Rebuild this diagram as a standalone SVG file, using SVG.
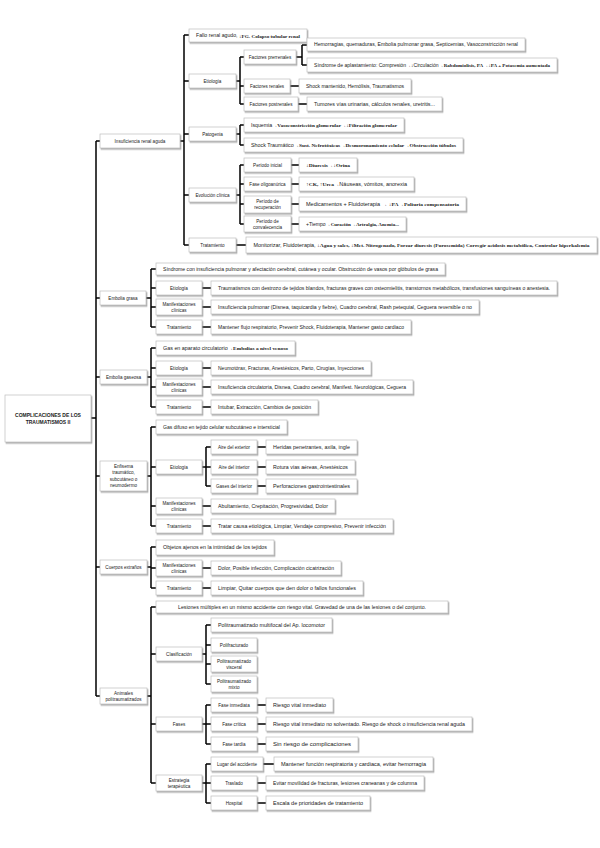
<svg xmlns="http://www.w3.org/2000/svg" width="600" height="848" viewBox="0 0 600 848">
<defs>
<filter id="sh" x="-5%" y="-20%" width="115%" height="160%"><feDropShadow dx="1" dy="1.4" stdDeviation="0.5" flood-color="#777" flood-opacity="0.6"/></filter>
<style>
.b{fill:#fff;stroke:#bdbdbd;stroke-width:0.7;filter:url(#sh)}
.t{font-family:"Liberation Sans",Arial,sans-serif;font-size:4.6px;fill:#222;text-anchor:middle;dominant-baseline:central}
.r{font-weight:bold;font-size:5px}
.k{font-family:"Liberation Serif","Times New Roman",serif;font-weight:bold}
#conn path{stroke:#000;stroke-width:1.5;fill:none}
</style>
</defs>
<rect width="600" height="848" fill="#fff"/>
<g id="conn">
<path d="M91 418H96M96 141V696M96 141H100M96 298H100M96 377H100M96 476H100M96 567H100M96 696H100"/>
<path d="M180 141H184M184 35V245M184 35H189M184 81H189M184 134H189M184 195H189M184 245H189"/>
<path d="M236 81H240M240 57V104M240 57H244M240 86H244M240 104H244M296 57H302M302 45V65M302 45H307M302 65H307M290 86H299M298 104H307"/>
<path d="M236 134H240M240 125V145M240 125H244M240 145H244"/>
<path d="M236 195H240M240 165V224M240 165H244M240 184H244M240 204H244M240 224H244M291 165H299M291 184H299M291 204H299M291 224H299M236 245H246"/>
<path d="M146 298H151M151 269V327M151 269H156M151 288H156M151 307H156M151 327H156M202 288H211M202 307H211M202 327H211"/>
<path d="M147 377H151M151 348V407M151 348H156M151 368H156M151 387H156M151 407H156M202 368H211M202 387H211M202 407H211"/>
<path d="M147 476H151M151 427V526M151 427H156M151 467H156M151 506H156M151 526H156M202 467H206M206 447V486M206 447H211M206 467H211M206 486H211M257 447H266M257 467H266M257 486H266M202 506H211M202 526H211"/>
<path d="M147 567H151M151 547V588M151 547H156M151 568H156M151 588H156M202 568H211M202 588H211"/>
<path d="M147 696H151M151 607V783M151 607H156M151 654H156M151 724H156M151 783H156M202 654H206M206 625V684M206 625H211M206 645H211M206 664H211M206 684H211M202 724H206M206 705V744M206 705H211M206 724H211M206 744H211M257 705H266M257 724H266M257 744H266M202 783H206M206 764V803M206 764H211M206 783H211M206 803H211M263 764H274M257 783H266M257 803H266"/>
</g>
<g id="root"><rect class="b" x="5" y="395" width="86" height="47"/><text class="t r" x="48" y="415">COMPLICACIONES DE LOS</text><text class="t r" x="48" y="422">TRAUMATISMOS II</text></g>
<g id="n-ira"><rect class="b" x="100" y="134" width="80" height="14"/><text class="t" x="140" y="141">Insuficiencia renal aguda</text></g>
<g id="n-eg"><rect class="b" x="100" y="291" width="46" height="14"/><text class="t" x="123" y="298">Embolia grasa</text></g>
<g id="n-egas"><rect class="b" x="100" y="370" width="47" height="14"/><text class="t" x="123.5" y="377">Embolia gaseosa</text></g>
<g id="n-enf"><rect class="b" x="100" y="461" width="47" height="30"/><text class="t" x="123.5" y="466">Enfisema</text><text class="t" x="123.5" y="472.5">traumático,</text><text class="t" x="123.5" y="479">subcutáneo o</text><text class="t" x="123.5" y="485.5">neumodermo</text></g>
<g id="n-ce"><rect class="b" x="100" y="560" width="47" height="14"/><text class="t" x="123.5" y="567">Cuerpos extraños</text></g>
<g id="n-pol"><rect class="b" x="100" y="688" width="47" height="16"/><text class="t" x="123.5" y="693">Animales</text><text class="t" x="123.5" y="699">politraumatizados</text></g>

<g id="n-fallo"><rect class="b" x="189" y="29" width="118" height="13"/><text class="t" x="248" y="35.5" textLength="104" lengthAdjust="spacingAndGlyphs">Fallo renal agudo, <tspan class="k">↓FG. Colapso tubular renal</tspan></text></g>
<g id="n-etio1"><rect class="b" x="189" y="74" width="47" height="14"/><text class="t" x="212.5" y="81">Etiología</text></g>
<g id="n-prerr"><rect class="b" x="244" y="50" width="52" height="14"/><text class="t" x="270" y="57">Factores prerrenales</text></g>
<g id="n-hemo"><rect class="b" x="307" y="38" width="218" height="13"/><text class="t" x="416" y="44.5" textLength="204" lengthAdjust="spacingAndGlyphs">Hemorragias, quemaduras, Embolia pulmonar grasa, Septicemias, Vasoconstricción renal</text></g>
<g id="n-apl"><rect class="b" x="307" y="58" width="250" height="14"/><text class="t" x="432" y="65" textLength="236" lengthAdjust="spacingAndGlyphs">Síndrome de aplastamiento: Compresión→↓Circulación→<tspan class="k">Rabdomiolisis, PA→↓PA + Potasemia aumentada</tspan></text></g>
<g id="n-ren"><rect class="b" x="244" y="79" width="46" height="14"/><text class="t" x="267" y="86">Factores renales</text></g>
<g id="n-shockm"><rect class="b" x="299" y="79" width="112" height="14"/><text class="t" x="355" y="86" textLength="98" lengthAdjust="spacingAndGlyphs">Shock mantenido, Hemólisis, Traumatismos</text></g>
<g id="n-postr"><rect class="b" x="244" y="97" width="54" height="14"/><text class="t" x="271" y="104">Factores postrenales</text></g>
<g id="n-tum"><rect class="b" x="307" y="97" width="135" height="14"/><text class="t" x="374.5" y="104" textLength="121" lengthAdjust="spacingAndGlyphs">Tumores vías urinarias, cálculos renales, uretritis...</text></g>
<g id="n-pato"><rect class="b" x="189" y="127" width="47" height="14"/><text class="t" x="212.5" y="134">Patogenia</text></g>
<g id="n-isq"><rect class="b" x="244" y="118" width="160" height="14"/><text class="t" x="324" y="125" textLength="146" lengthAdjust="spacingAndGlyphs">Isquemia→<tspan class="k">Vasoconstricción glomerular→↓Filtración glomerular</tspan></text></g>
<g id="n-shtr"><rect class="b" x="244" y="138" width="219" height="14"/><text class="t" x="353.5" y="145" textLength="205" lengthAdjust="spacingAndGlyphs">Shock Traumático→<tspan class="k">Sust. Nefrotóxicas→Desmoronamiento celular→Obstrucción túbulos</tspan></text></g>
<g id="n-evol"><rect class="b" x="189" y="188" width="47" height="14"/><text class="t" x="212.5" y="195">Evolución clínica</text></g>
<g id="n-pini"><rect class="b" x="244" y="158" width="47" height="14"/><text class="t" x="267.5" y="165">Período inicial</text></g>
<g id="n-diur"><rect class="b" x="299" y="158" width="58" height="14"/><text class="t" x="328" y="165" textLength="44" lengthAdjust="spacingAndGlyphs"><tspan class="k">↓Diuresis→↓Orina</tspan></text></g>
<g id="n-olig"><rect class="b" x="244" y="177" width="47" height="14"/><text class="t" x="267.5" y="184">Fase oligoanúrica</text></g>
<g id="n-ck"><rect class="b" x="299" y="177" width="115" height="14"/><text class="t" x="356.5" y="184" textLength="101" lengthAdjust="spacingAndGlyphs"><tspan class="k">↑CK, ↑Urea→</tspan>Náuseas, vómitos, anorexia</text></g>
<g id="n-recup"><rect class="b" x="244" y="196" width="47" height="17"/><text class="t" x="267.5" y="201.5">Período de</text><text class="t" x="267.5" y="207.5">recuperación</text></g>
<g id="n-medic"><rect class="b" x="299" y="197" width="167" height="14"/><text class="t" x="382.5" y="204" textLength="153" lengthAdjust="spacingAndGlyphs">Medicamentos + Fluidoterapia → <tspan class="k">↓PA→Poliuria compensatoria</tspan></text></g>
<g id="n-conv"><rect class="b" x="244" y="216" width="47" height="16"/><text class="t" x="267.5" y="221">Período de</text><text class="t" x="267.5" y="227">convalecencia</text></g>
<g id="n-tiempo"><rect class="b" x="299" y="217" width="107" height="14"/><text class="t" x="352.5" y="224" textLength="93" lengthAdjust="spacingAndGlyphs">+Tiempo→<tspan class="k">Curación→Artralgia, Anemia...</tspan></text></g>
<g id="n-trat1"><rect class="b" x="189" y="238" width="47" height="14"/><text class="t" x="212.5" y="245">Tratamiento</text></g>
<g id="n-monit"><rect class="b" x="246" y="237" width="351" height="16"/><text class="t" x="421.5" y="245" textLength="336" lengthAdjust="spacingAndGlyphs">Monitorizar, Fluidoterapia, <tspan class="k">↓Agua y sales, ↓Met. Nitrogenado, Forzar diuresis (Furosemida) Corregir acidosis metabólica, Controlar hiperkalemia</tspan></text></g>

<g id="n-eg-def"><rect class="b" x="156" y="263" width="289" height="12"/><text class="t" x="300.5" y="269" textLength="275" lengthAdjust="spacingAndGlyphs">Síndrome con insuficiencia pulmonar y afectación cerebral, cutánea y ocular. Obstrucción de vasos por glóbulos de grasa</text></g>
<g id="n-eg-etio"><rect class="b" x="156" y="281" width="46" height="14"/><text class="t" x="179" y="288">Etiología</text></g>
<g id="n-eg-etio-t"><rect class="b" x="211" y="281" width="346" height="14"/><text class="t" x="384" y="288" textLength="332" lengthAdjust="spacingAndGlyphs">Traumatismos con destrozo de tejidos blandos, fracturas graves con osteomielitis, transtornos metabólicos, transfusiones sanguíneas o anestesia.</text></g>
<g id="n-eg-man"><rect class="b" x="156" y="299" width="46" height="16"/><text class="t" x="179" y="304">Manifestaciones</text><text class="t" x="179" y="310">clínicas</text></g>
<g id="n-eg-man-t"><rect class="b" x="211" y="300" width="268" height="14"/><text class="t" x="345" y="307" textLength="254" lengthAdjust="spacingAndGlyphs">Insuficiencia pulmonar (Disnea, taquicardia y fiebre), Cuadro cerebral, Rash petequial, Ceguera reversible o no</text></g>
<g id="n-eg-trat"><rect class="b" x="156" y="320" width="46" height="14"/><text class="t" x="179" y="327">Tratamiento</text></g>
<g id="n-eg-trat-t"><rect class="b" x="211" y="320" width="200" height="14"/><text class="t" x="311" y="327" textLength="186" lengthAdjust="spacingAndGlyphs">Mantener flujo respiratorio, Prevenir Shock, Fluidoterapia, Mantener gasto cardíaco</text></g>

<g id="n-gas-def"><rect class="b" x="156" y="341" width="139" height="14"/><text class="t" x="225.5" y="348" textLength="125" lengthAdjust="spacingAndGlyphs">Gas en aparato circulatorio→<tspan class="k">Embolias a nivel venoso</tspan></text></g>
<g id="n-gas-etio"><rect class="b" x="156" y="361" width="46" height="14"/><text class="t" x="179" y="368">Etiología</text></g>
<g id="n-gas-etio-t"><rect class="b" x="211" y="361" width="160" height="14"/><text class="t" x="291" y="368" textLength="146" lengthAdjust="spacingAndGlyphs">Neumotórax, Fracturas, Anestésicos, Parto, Cirugías, Inyecciones</text></g>
<g id="n-gas-man"><rect class="b" x="156" y="379" width="46" height="16"/><text class="t" x="179" y="384">Manifestaciones</text><text class="t" x="179" y="390">clínicas</text></g>
<g id="n-gas-man-t"><rect class="b" x="211" y="380" width="202" height="14"/><text class="t" x="312" y="387" textLength="188" lengthAdjust="spacingAndGlyphs">Insuficiencia circulatoria, Disnea, Cuadro cerebral, Manifest. Neurológicas, Ceguera</text></g>
<g id="n-gas-trat"><rect class="b" x="156" y="400" width="46" height="14"/><text class="t" x="179" y="407">Tratamiento</text></g>
<g id="n-gas-trat-t"><rect class="b" x="211" y="400" width="107" height="14"/><text class="t" x="264.5" y="407" textLength="93" lengthAdjust="spacingAndGlyphs">Intubar, Extracción, Cambios de posición</text></g>

<g id="n-enf-def"><rect class="b" x="156" y="420" width="131" height="14"/><text class="t" x="221.5" y="427" textLength="117" lengthAdjust="spacingAndGlyphs">Gas difuso en tejido celular subcutáneo e intersticial</text></g>
<g id="n-enf-etio"><rect class="b" x="156" y="460" width="46" height="14"/><text class="t" x="179" y="467">Etiología</text></g>
<g id="n-aext"><rect class="b" x="211" y="440" width="46" height="14"/><text class="t" x="234" y="447">Aire del exterior</text></g>
<g id="n-aext-t"><rect class="b" x="266" y="440" width="91" height="14"/><text class="t" x="311.5" y="447" textLength="77" lengthAdjust="spacingAndGlyphs">Heridas penetrantes, axila, ingle</text></g>
<g id="n-aint"><rect class="b" x="211" y="460" width="46" height="14"/><text class="t" x="234" y="467">Aire del interior</text></g>
<g id="n-aint-t"><rect class="b" x="266" y="460" width="89" height="14"/><text class="t" x="310.5" y="467" textLength="75" lengthAdjust="spacingAndGlyphs">Rotura vías aéreas, Anestésicos</text></g>
<g id="n-gint"><rect class="b" x="211" y="479" width="46" height="14"/><text class="t" x="234" y="486">Gases del interior</text></g>
<g id="n-gint-t"><rect class="b" x="266" y="479" width="91" height="14"/><text class="t" x="311.5" y="486" textLength="77" lengthAdjust="spacingAndGlyphs">Perforaciones gastrointestinales</text></g>
<g id="n-enf-man"><rect class="b" x="156" y="498" width="46" height="16"/><text class="t" x="179" y="503">Manifestaciones</text><text class="t" x="179" y="509">clínicas</text></g>
<g id="n-enf-man-t"><rect class="b" x="211" y="499" width="124" height="14"/><text class="t" x="273" y="506" textLength="110" lengthAdjust="spacingAndGlyphs">Abultamiento, Crepitación, Progresividad, Dolor</text></g>
<g id="n-enf-trat"><rect class="b" x="156" y="519" width="46" height="14"/><text class="t" x="179" y="526">Tratamiento</text></g>
<g id="n-enf-trat-t"><rect class="b" x="211" y="519" width="182" height="14"/><text class="t" x="302" y="526" textLength="168" lengthAdjust="spacingAndGlyphs">Tratar causa etiológica, Limpiar, Vendaje compresivo, Prevenir infección</text></g>

<g id="n-ce-def"><rect class="b" x="156" y="540" width="118" height="15"/><text class="t" x="215" y="547.5" textLength="104" lengthAdjust="spacingAndGlyphs">Objetos ajenos en la intimidad de los tejidos</text></g>
<g id="n-ce-man"><rect class="b" x="156" y="560" width="46" height="16"/><text class="t" x="179" y="565">Manifestaciones</text><text class="t" x="179" y="571">clínicas</text></g>
<g id="n-ce-man-t"><rect class="b" x="211" y="561" width="130" height="14"/><text class="t" x="276" y="568" textLength="116" lengthAdjust="spacingAndGlyphs">Dolor, Posible infección, Complicación cicatrización</text></g>
<g id="n-ce-trat"><rect class="b" x="156" y="581" width="46" height="14"/><text class="t" x="179" y="588">Tratamiento</text></g>
<g id="n-ce-trat-t"><rect class="b" x="211" y="581" width="152" height="14"/><text class="t" x="287" y="588" textLength="138" lengthAdjust="spacingAndGlyphs">Limpiar, Quitar cuerpos que den dolor o fallos funcionales</text></g>

<g id="n-pol-def"><rect class="b" x="156" y="601" width="292" height="12"/><text class="t" x="302" y="607" textLength="248" lengthAdjust="spacingAndGlyphs">Lesiones múltiples en un mismo accidente con riesgo vital. Gravedad de una de las lesiones o del conjunto.</text></g>
<g id="n-clas"><rect class="b" x="156" y="647" width="46" height="14"/><text class="t" x="179" y="654">Clasificación</text></g>
<g id="n-multi"><rect class="b" x="211" y="618" width="121" height="14"/><text class="t" x="271.5" y="625" textLength="107" lengthAdjust="spacingAndGlyphs">Politraumatizado multifocal del Ap. locomotor</text></g>
<g id="n-polifr"><rect class="b" x="211" y="638" width="46" height="14"/><text class="t" x="234" y="645">Polifracturado</text></g>
<g id="n-visc"><rect class="b" x="211" y="656" width="46" height="16"/><text class="t" x="234" y="661">Politraumatizado</text><text class="t" x="234" y="667">visceral</text></g>
<g id="n-mixto"><rect class="b" x="211" y="676" width="46" height="16"/><text class="t" x="234" y="681">Politraumatizado</text><text class="t" x="234" y="687">mixto</text></g>
<g id="n-fases"><rect class="b" x="156" y="717" width="46" height="14"/><text class="t" x="179" y="724">Fases</text></g>
<g id="n-finm"><rect class="b" x="211" y="698" width="46" height="14"/><text class="t" x="234" y="705">Fase inmediata</text></g>
<g id="n-finm-t"><rect class="b" x="266" y="698" width="67" height="14"/><text class="t" x="299.5" y="705" textLength="53" lengthAdjust="spacingAndGlyphs">Riesgo vital inmediato</text></g>
<g id="n-fcrit"><rect class="b" x="211" y="717" width="46" height="14"/><text class="t" x="234" y="724">Fase crítica</text></g>
<g id="n-fcrit-t"><rect class="b" x="266" y="717" width="206" height="14"/><text class="t" x="369" y="724" textLength="192" lengthAdjust="spacingAndGlyphs">Riesgo vital inmediato no solventado. Riesgo de shock o insuficiencia renal aguda</text></g>
<g id="n-ftard"><rect class="b" x="211" y="737" width="46" height="14"/><text class="t" x="234" y="744">Fase tardía</text></g>
<g id="n-ftard-t"><rect class="b" x="266" y="737" width="92" height="14"/><text class="t" x="312" y="744" textLength="78" lengthAdjust="spacingAndGlyphs">Sin riesgo de complicaciones</text></g>
<g id="n-estr"><rect class="b" x="156" y="775" width="46" height="16"/><text class="t" x="179" y="780">Estrategia</text><text class="t" x="179" y="786">terapéutica</text></g>
<g id="n-lugar"><rect class="b" x="211" y="757" width="52" height="14"/><text class="t" x="237" y="764">Lugar del accidente</text></g>
<g id="n-lugar-t"><rect class="b" x="274" y="757" width="159" height="14"/><text class="t" x="353.5" y="764" textLength="145" lengthAdjust="spacingAndGlyphs">Mantener función respiratoria y cardiaca, evitar hemorragia</text></g>
<g id="n-trasl"><rect class="b" x="211" y="776" width="46" height="14"/><text class="t" x="234" y="783">Traslado</text></g>
<g id="n-trasl-t"><rect class="b" x="266" y="776" width="158" height="14"/><text class="t" x="345" y="783" textLength="144" lengthAdjust="spacingAndGlyphs">Evitar movilidad de fracturas, lesiones craneanas y de columna</text></g>
<g id="n-hosp"><rect class="b" x="211" y="796" width="46" height="14"/><text class="t" x="234" y="803">Hospital</text></g>
<g id="n-hosp-t"><rect class="b" x="266" y="796" width="104" height="14"/><text class="t" x="318" y="803" textLength="90" lengthAdjust="spacingAndGlyphs">Escala de prioridades de tratamiento</text></g>
</svg>
